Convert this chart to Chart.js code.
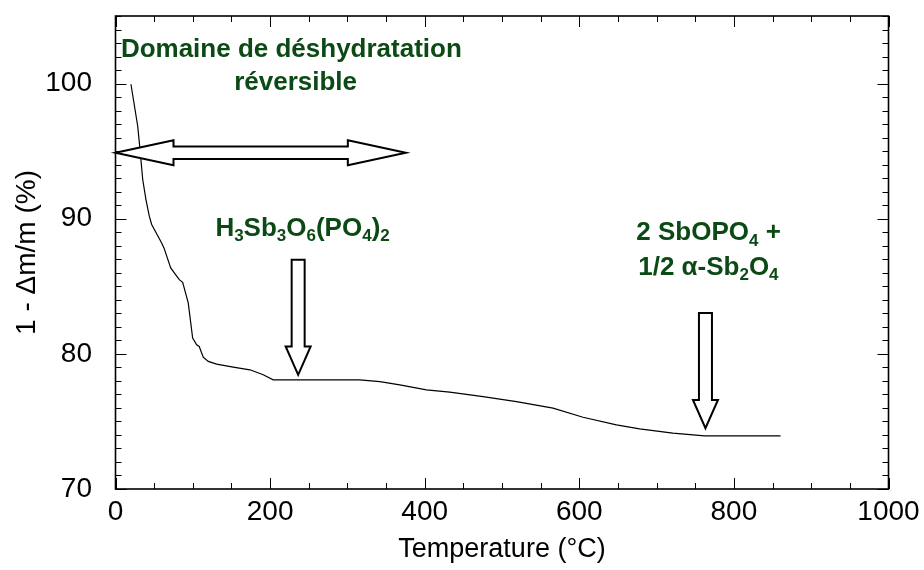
<!DOCTYPE html>
<html>
<head>
<meta charset="utf-8">
<script src="https://cdn.jsdelivr.net/npm/chart.js@4.4.0/dist/chart.umd.min.js"></script>
<style>
html, body {margin:0; padding:0; background:#fff;}
</style>
</head>
<body>
<canvas id="myChart1" width="924" height="570"></canvas>
<script>
// courbe ATG : temperature (°C) / 1 - dm/m (%)
const temps = [20.0, 28.7, 31.7, 35.2, 39.4, 43.7, 46.8, 59.7, 62.7, 71.4,
	82.5, 86.9, 94.1, 99.8, 105, 108.3, 113.5, 120, 130.8, 152.3,
	173.9, 191.1, 204, 260, 316, 342, 367.8, 402.3, 432.4, 475.5,
	518.7, 566, 604.8, 648, 678, 721, 762, 860.4];
const masses = [99.95, 96.86, 95.13, 92.9, 91.42, 90.19, 89.57, 88.21, 87.84, 86.36,
	85.49, 85.29, 83.77, 81.17, 80.67, 80.55, 79.76, 79.44, 79.24, 79.02,
	78.82, 78.45, 78.08, 78.08, 78.08, 77.95, 77.71, 77.34, 77.17, 76.84,
	76.47, 75.98, 75.31, 74.74, 74.45, 74.13, 73.93, 73.93];

const xRange = [0, 1000];
const yRange = [70, 105];
const xStep = 200, xMinor = 50;
const yStep = 10, yMinor = 1;

// textes (x, y en unites des axes, _ = indice)
const noteTexts = ['Domaine de déshydratation', 'réversible', 'H_3Sb_3O_6(PO_4)_2', '2 SbOPO_4 +', '1/2 α-Sb_2O_4'];
const noteX = [227.5, 233, 242, 767.3, 767];
const noteY = [101.93, 99.53, 88.7, 88.4, 85.86];

// fleches
const hArrowX = [0, 375.6];
const hArrowY = 94.88;
const vArrowX = [236.3, 763.2];
const vArrowTop = [86.97, 83.02];
const vArrowTip = [78.45, 74.5];

const FONT = "'Liberation Sans', Arial, sans-serif";
const GREEN = '#0b4a14';

function drawRich(ctx, str, cx, base, size){
	// decoupe en morceaux normal / indice
	let parts = [];
	for(let i=0;i<str.length;i++){
		if(str[i] == '_' && i+1 < str.length){
			parts.push({t: str[i+1], sub: true});
			i++;
		}else{
			parts.push({t: str[i], sub: false});
		}
	}
	const subSize = Math.round(size * 0.66);
	let w = 0;
	parts.forEach(p => {
		ctx.font = 'bold ' + (p.sub ? subSize : size) + 'px ' + FONT;
		p.w = ctx.measureText(p.t).width;
		w += p.w;
	});
	let x = cx - w / 2;
	ctx.textAlign = 'left';
	ctx.textBaseline = 'alphabetic';
	parts.forEach(p => {
		ctx.font = 'bold ' + (p.sub ? subSize : size) + 'px ' + FONT;
		ctx.fillText(p.t, x, base + (p.sub ? size * 0.2 : 0));
		x += p.w;
	});
}

const frameTicks = {
	id: 'frameTicks',
	beforeDatasetsDraw(chart){
		const {ctx, chartArea: a, scales: {x, y}} = chart;
		ctx.save();
		ctx.strokeStyle = '#000';
		ctx.lineWidth = 1;
		ctx.beginPath();
		for(let v = xRange[0]; v <= xRange[1]; v += xMinor){
			const px = Math.round(x.getPixelForValue(v)) + 0.5;
			const len = (v % xStep == 0) ? 11 : 6;
			ctx.moveTo(px, a.bottom); ctx.lineTo(px, a.bottom - len);
			ctx.moveTo(px, a.top); ctx.lineTo(px, a.top + len);
		}
		for(let v = yRange[0]; v <= yRange[1]; v += yMinor){
			const py = Math.round(y.getPixelForValue(v)) + 0.5;
			const len = (v % yStep == 0) ? 11 : 6;
			ctx.moveTo(a.left, py); ctx.lineTo(a.left + len, py);
			ctx.moveTo(a.right, py); ctx.lineTo(a.right - len, py);
		}
		ctx.stroke();
		ctx.lineWidth = 1.6;
		ctx.strokeRect(a.left, a.top, a.right - a.left, a.bottom - a.top);
		ctx.restore();
	}
};

const notes = {
	id: 'notes',
	afterDatasetsDraw(chart){
		const {ctx, scales: {x, y}} = chart;
		ctx.save();
		ctx.lineWidth = 2;
		ctx.strokeStyle = '#000';
		ctx.fillStyle = '#fff';
		ctx.lineJoin = 'miter';

		// double fleche horizontale
		const xl = x.getPixelForValue(hArrowX[0]);
		const xr = x.getPixelForValue(hArrowX[1]);
		const yc = y.getPixelForValue(hArrowY);
		const hl = 58, hh = 12.5, sh = 6.2;
		ctx.beginPath();
		ctx.moveTo(xl, yc);
		ctx.lineTo(xl + hl, yc - hh);
		ctx.lineTo(xl + hl, yc - sh);
		ctx.lineTo(xr - hl, yc - sh);
		ctx.lineTo(xr - hl, yc - hh);
		ctx.lineTo(xr, yc);
		ctx.lineTo(xr - hl, yc + hh);
		ctx.lineTo(xr - hl, yc + sh);
		ctx.lineTo(xl + hl, yc + sh);
		ctx.lineTo(xl + hl, yc + hh);
		ctx.closePath();
		ctx.fill(); ctx.stroke();

		// fleches verticales
		for(let i=0;i<vArrowX.length;i++){
			const xc = x.getPixelForValue(vArrowX[i]);
			const yt = y.getPixelForValue(vArrowTop[i]);
			const yb = y.getPixelForValue(vArrowTip[i]);
			const vl = 28.3, vh = 12.5, vs = 6.5;
			ctx.beginPath();
			ctx.moveTo(xc - vs, yt);
			ctx.lineTo(xc + vs, yt);
			ctx.lineTo(xc + vs, yb - vl);
			ctx.lineTo(xc + vh, yb - vl);
			ctx.lineTo(xc, yb);
			ctx.lineTo(xc - vh, yb - vl);
			ctx.lineTo(xc - vs, yb - vl);
			ctx.closePath();
			ctx.fill(); ctx.stroke();
		}

		// textes
		ctx.fillStyle = GREEN;
		for(let i=0;i<noteTexts.length;i++){
			drawRich(ctx, noteTexts[i], x.getPixelForValue(noteX[i]), y.getPixelForValue(noteY[i]), 26);
		}
		ctx.restore();
	}
};

const data = {
	datasets: [{
		label: 'ATG',
		data: temps.map((t, i) => ({x: t, y: masses[i]})),
		borderColor: '#000',
		backgroundColor: '#000',
		borderWidth: 1.2,
		pointRadius: 0,
		tension: 0,
		showLine: true
	}]
};

const config = {
	type: 'scatter',
	data: data,
	options: {
		responsive: false,
		animation: false,
		devicePixelRatio: 1,
		layout: {padding: {top: 16, right: 35.5, left: 0, bottom: 0}},
		plugins: {legend: {display: false}, tooltip: {enabled: false}},
		scales: {
			x: {
				type: 'linear',
				min: xRange[0], max: xRange[1],
				grid: {display: false, drawTicks: false},
				border: {display: false},
				ticks: {stepSize: xStep, color: '#000', padding: 6, font: {family: FONT, size: 28}, callback: v => String(v)},
				title: {display: true, text: 'Temperature (°C)', color: '#000', padding: {top: 0, bottom: 4}, font: {family: FONT, size: 27}},
				afterFit(scale){ scale.height = 81; scale.paddingLeft = 0; scale.paddingRight = 0; }
			},
			y: {
				type: 'linear',
				min: yRange[0], max: yRange[1],
				grid: {display: false, drawTicks: false},
				border: {display: false},
				ticks: {stepSize: yStep, includeBounds: false, color: '#000', padding: 23.5, font: {family: FONT, size: 28}, callback: v => String(v)},
				title: {display: true, text: '1 - Δm/m (%)', color: '#000', padding: {top: 10, bottom: 0}, font: {family: FONT, size: 28}},
				afterFit(scale){ scale.width = 115.5; scale.paddingTop = 0; scale.paddingBottom = 0; }
			}
		}
	},
	plugins: [frameTicks, notes]
};

let myChart1 = new Chart(document.getElementById('myChart1'), config);
</script>
</body>
</html>
